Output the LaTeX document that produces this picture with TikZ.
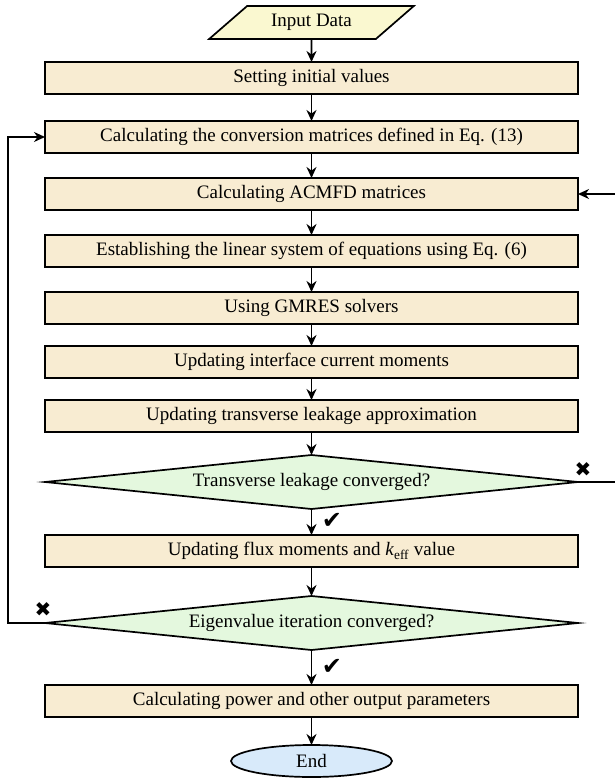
\documentclass[tikz,border=0pt]{standalone}
\usepackage{fontspec}
\setmainfont{Liberation Serif}
\newfontfamily\symfont{DejaVu Sans}
\usetikzlibrary{positioning,shapes.geometric,arrows.meta}
\definecolor{boxfill}{RGB}{248,236,210}
\definecolor{decfill}{RGB}{228,248,222}
\definecolor{iofill}{RGB}{250,248,208}
\definecolor{endfill}{RGB}{216,234,250}

\begin{document}
\begin{tikzpicture}
[x=1pt,y=1pt,
 every node/.style={font=\fontsize{19}{22}\selectfont,inner sep=0pt,outer sep=0pt},
 proc/.style={rectangle,draw=black,line width=1.7pt,fill=boxfill,minimum width=533pt,minimum height=32pt},
 dec/.style={diamond,draw=black,line width=1.7pt,fill=decfill,aspect=10,minimum width=533pt,minimum height=54pt},
 io/.style={trapezium,trapezium left angle=41,trapezium right angle=139,draw=black,line width=1.7pt,fill=iofill,
            text height=13pt,text depth=4pt,inner xsep=24pt,inner ysep=8pt},
 term/.style={ellipse,draw=black,line width=1.7pt,fill=endfill,minimum width=161pt,minimum height=32pt},
 yes/.style={font=\symfont\fontsize{24}{24}\selectfont},
 no/.style={font=\symfont\fontsize{20}{20}\selectfont},
 flow/.style={-{Stealth[length=11pt,width=10pt]},line width=1.8pt}]
\useasboundingbox (0,0) rectangle (614,-778);
\node[io]   (in)    at (311.5,-22.5)                  {Input Data};
\node[proc] (init)  [on grid,below=55.5pt of in]    {Setting initial values};
\node[proc] (conv)  [on grid,below=59pt of init]    {Calculating the conversion matrices defined in Eq. (13)};
\node[proc] (acm)   [on grid,below=57pt of conv]    {Calculating ACMFD matrices};
\node[proc] (lin)   [on grid,below=57pt of acm]     {Establishing the linear system of equations using Eq. (6)};
\node[proc] (gmr)   [on grid,below=57pt of lin]     {Using GMRES solvers};
\node[proc] (cur)   [on grid,below=54pt of gmr]     {Updating interface current moments};
\node[proc] (tl)    [on grid,below=54pt of cur]     {Updating transverse leakage approximation};
\node[dec]  (tlok)  [on grid,below=66pt of tl]      {Transverse leakage converged?};
\node[proc] (flux)  [on grid,below=69pt of tlok]    {Updating flux moments and \textit{k}\textsubscript{eff} value};
\node[dec]  (eigok) [on grid,below=72pt of flux]    {Eigenvalue iteration converged?};
\node[proc] (pow)   [on grid,below=78pt of eigok]   {Calculating power and other output parameters};
\node[term] (fin)   [on grid,below=60pt of pow]     {End};

\path[flow] (in)    edge (init);
\path[flow] (init)  edge (conv);
\path[flow] (conv)  edge (acm);
\path[flow] (acm)   edge (lin);
\path[flow] (lin)   edge (gmr);
\path[flow] (gmr)   edge (cur);
\path[flow] (cur)   edge (tl);
\path[flow] (tl)    edge (tlok);
\path[flow] (tlok)  edge (flux);
\path[flow] (flux)  edge (eigok);
\path[flow] (eigok) edge (pow);
\path[flow] (pow)   edge (fin);

% loops back
\draw[flow] (tlok.east) -- ++(50,0) |- (acm.east);
\draw[flow] (eigok.west) -- ++(-37,0) |- (conv.west);

\node[yes] (y1) at (332,-521) {✔};
\node[yes] (y2) at (332,-667) {✔};
\node[no]  (n1) at (583,-470) {✖};
\node[no]  (n2) at (43,-610)  {✖};
\end{tikzpicture}
\end{document}
